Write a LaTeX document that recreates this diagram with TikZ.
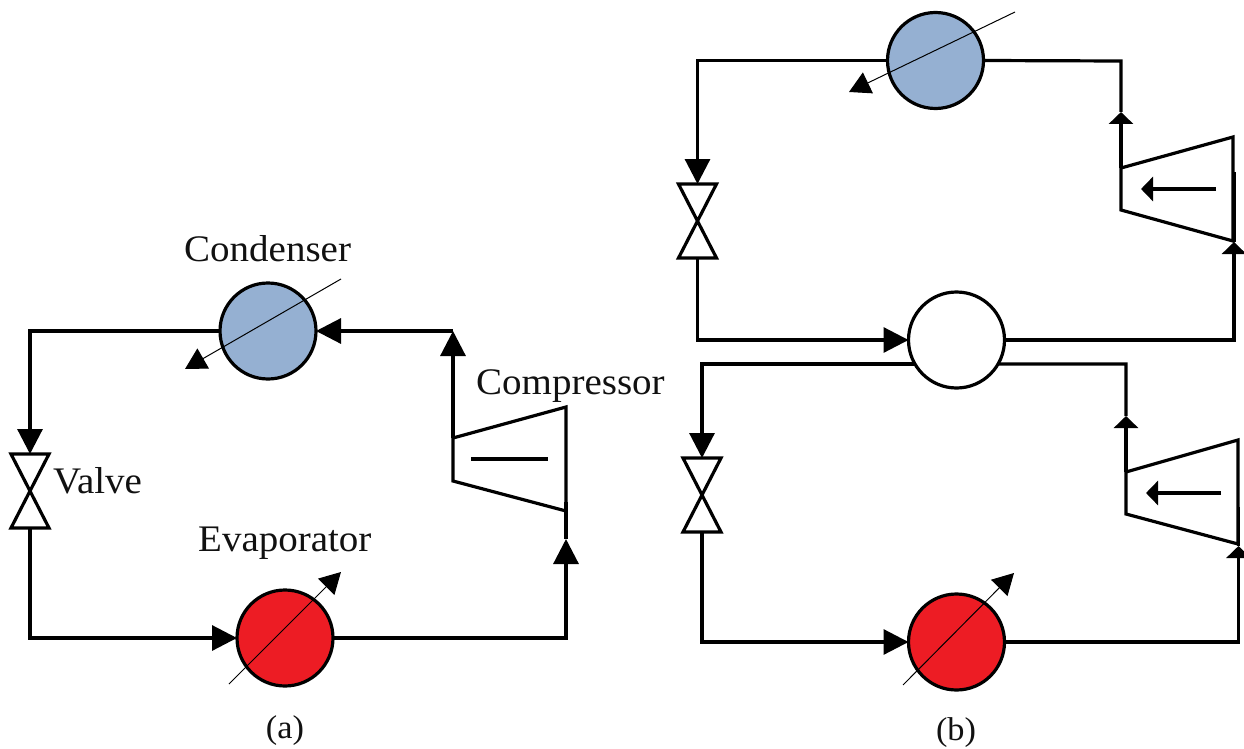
\documentclass[tikz,border=0pt]{standalone}
\usepackage{fontspec}
\setmainfont[FakeStretch=1.04]{Liberation Serif}
\usetikzlibrary{arrows.meta}
\definecolor{condblue}{HTML}{95B0D2}
\definecolor{evapred}{HTML}{ED1C24}
\definecolor{ink}{HTML}{111111}
\tikzset{
  exch/.style={circle,draw=black,line width=3.2pt,minimum size=96pt,inner sep=0pt,outer sep=0pt},
  valvebox/.style={rectangle,minimum width=38pt,minimum height=74pt,inner sep=0pt,outer sep=0pt},
  pipe/.style={line width=3.2pt,line join=miter},
  bigtip/.style={pipe,-{Triangle[length=25pt,width=25pt]}},
  smalltip/.style={pipe,-{Triangle[length=12pt,width=24pt]}},
  thinarrow/.style={line width=1pt,-{Triangle[length=21pt,width=23pt]}},
  label/.style={anchor=base west,inner sep=0pt,text=ink,font=\fontsize{37.5}{42}\selectfont},
  caption/.style={anchor=center,inner sep=0pt,text=ink,font=\fontsize{33}{38}\selectfont}
}
\begin{document}
\begin{tikzpicture}[x=1pt,y=-1pt]
\useasboundingbox (0,0) rectangle (1244,749);
\clip (0,0) rectangle (1244,749);

% ---------- panel (a) ----------
\node[exch,fill=condblue] (aCond) at (268,331) {};
\node[exch,fill=evapred] (aEvap) at (285,638) {};
\node[valvebox] (aValve) at (30,491) {};
\coordinate (aCLT) at (453,438);
\coordinate (aCLB) at (453,481);
\coordinate (aCRT) at (566,407);
\coordinate (aCRB) at (566,511);
\coordinate (aCorner) at (453,331);
\coordinate (aTipR) at (566,539);
\coordinate (aIn) at (566,502);
\coordinate (aBarL) at (471,459);
\coordinate (aBarR) at (548,459);
\coordinate (aCondA) at (341,279);
\coordinate (aCondB) at (185,369);
\coordinate (aEvapA) at (229,684);
\coordinate (aEvapB) at (341,572);

\draw[thinarrow] (aCondA) -- (aCondB);
\draw[thinarrow] (aEvapA) -- (aEvapB);
\draw[pipe] (aValve.north west) -- (aValve.north east) -- (aValve.south west) -- (aValve.south east) -- cycle;
\draw[bigtip] (aCond.west) -| (aValve.north);
\draw[bigtip] (aValve.south) |- (aEvap.west);
\draw[bigtip] (aEvap.east) -| (aTipR);
\draw[pipe] (aTipR) -- (aIn);
\draw[pipe] (aCLB) -- (aCRB) -- (aCRT) -- (aCLT) -- cycle;
\draw[bigtip] (aCLT) -- (aCorner);
\draw[bigtip] (aCorner) -- (aCond.east);
\draw[pipe] (aBarL) -- (aBarR);

\node[label] (tCond) at (184,261) {Condenser};
\node[label] (tComp) at (476,394) {Compressor};
\node[label] (tValve) at (53,493) {Valve};
\node[label] (tEvap) at (198,551) {Evaporator};
\node[caption] (capA) at (285,731) {(a)};

% ---------- panel (b), upper loop ----------
\node[exch,fill=condblue] (bCond) at (935.5,60.5) {};
\node[exch,fill=white] (bMid) at (956.5,340) {};
\node[valvebox] (bValve) at (697.5,221) {};
\coordinate (bCLT) at (1121,168);
\coordinate (bCLB) at (1121,210);
\coordinate (bCRT) at (1233,137);
\coordinate (bCRB) at (1233,241);
\coordinate (bCorner) at (1121,61);
\coordinate (bTip) at (1121,112);
\coordinate (bTipR) at (1234,242);
\coordinate (bTop) at (1234,172);
\coordinate (bArrA) at (1216,189);
\coordinate (bArrB) at (1141,189);
\coordinate (bCondA) at (1015,12);
\coordinate (bCondB) at (849,92);

\draw[thinarrow] (bCondA) -- (bCondB);
\draw[pipe] (bValve.north west) -- (bValve.north east) -- (bValve.south west) -- (bValve.south east) -- cycle;
\draw[bigtip] (bCond.west) -| (bValve.north);
\draw[bigtip] (bValve.south) |- (bMid.west);
\draw[smalltip] (bMid.east) -| (bTipR);
\draw[pipe] (bTipR) -- (bTop);
\draw[pipe] (bCLB) -- (bCRB) -- (bCRT) -- (bCLT) -- cycle;
\draw[smalltip] (bCLT) -- (bTip);
\draw[pipe] (bTip) -- (bCorner) -- (bCond.east);
\draw[smalltip] (bArrA) -- (bArrB);

% ---------- panel (b), lower loop ----------
\node[exch,fill=evapred] (cEvap) at (956.5,642) {};
\node[valvebox] (cValve) at (702,495) {};
\coordinate (cCLT) at (1126,472);
\coordinate (cCLB) at (1126,514);
\coordinate (cCRT) at (1238,440);
\coordinate (cCRB) at (1238,544);
\coordinate (cCorner) at (1126,364);
\coordinate (cTip) at (1126,416);
\coordinate (cTipR) at (1238.5,546);
\coordinate (cTop) at (1238.5,507);
\coordinate (cArrA) at (1221,493);
\coordinate (cArrB) at (1146,493);
\coordinate (cEvapA) at (903,685);
\coordinate (cEvapB) at (1014,573);

\draw[thinarrow] (cEvapA) -- (cEvapB);
\draw[pipe] (cValve.north west) -- (cValve.north east) -- (cValve.south west) -- (cValve.south east) -- cycle;
\draw[bigtip] (bMid.210) -| (cValve.north);
\draw[bigtip] (cValve.south) |- (cEvap.west);
\draw[smalltip] (cEvap.east) -| (cTipR);
\draw[pipe] (cTipR) -- (cTop);
\draw[pipe] (cCLB) -- (cCRB) -- (cCRT) -- (cCLT) -- cycle;
\draw[smalltip] (cCLT) -- (cTip);
\draw[pipe] (cTip) -- (cCorner) -- (bMid.-30);
\draw[smalltip] (cArrA) -- (cArrB);
\node[caption] (capB) at (956,733) {(b)};
\end{tikzpicture}
\end{document}
